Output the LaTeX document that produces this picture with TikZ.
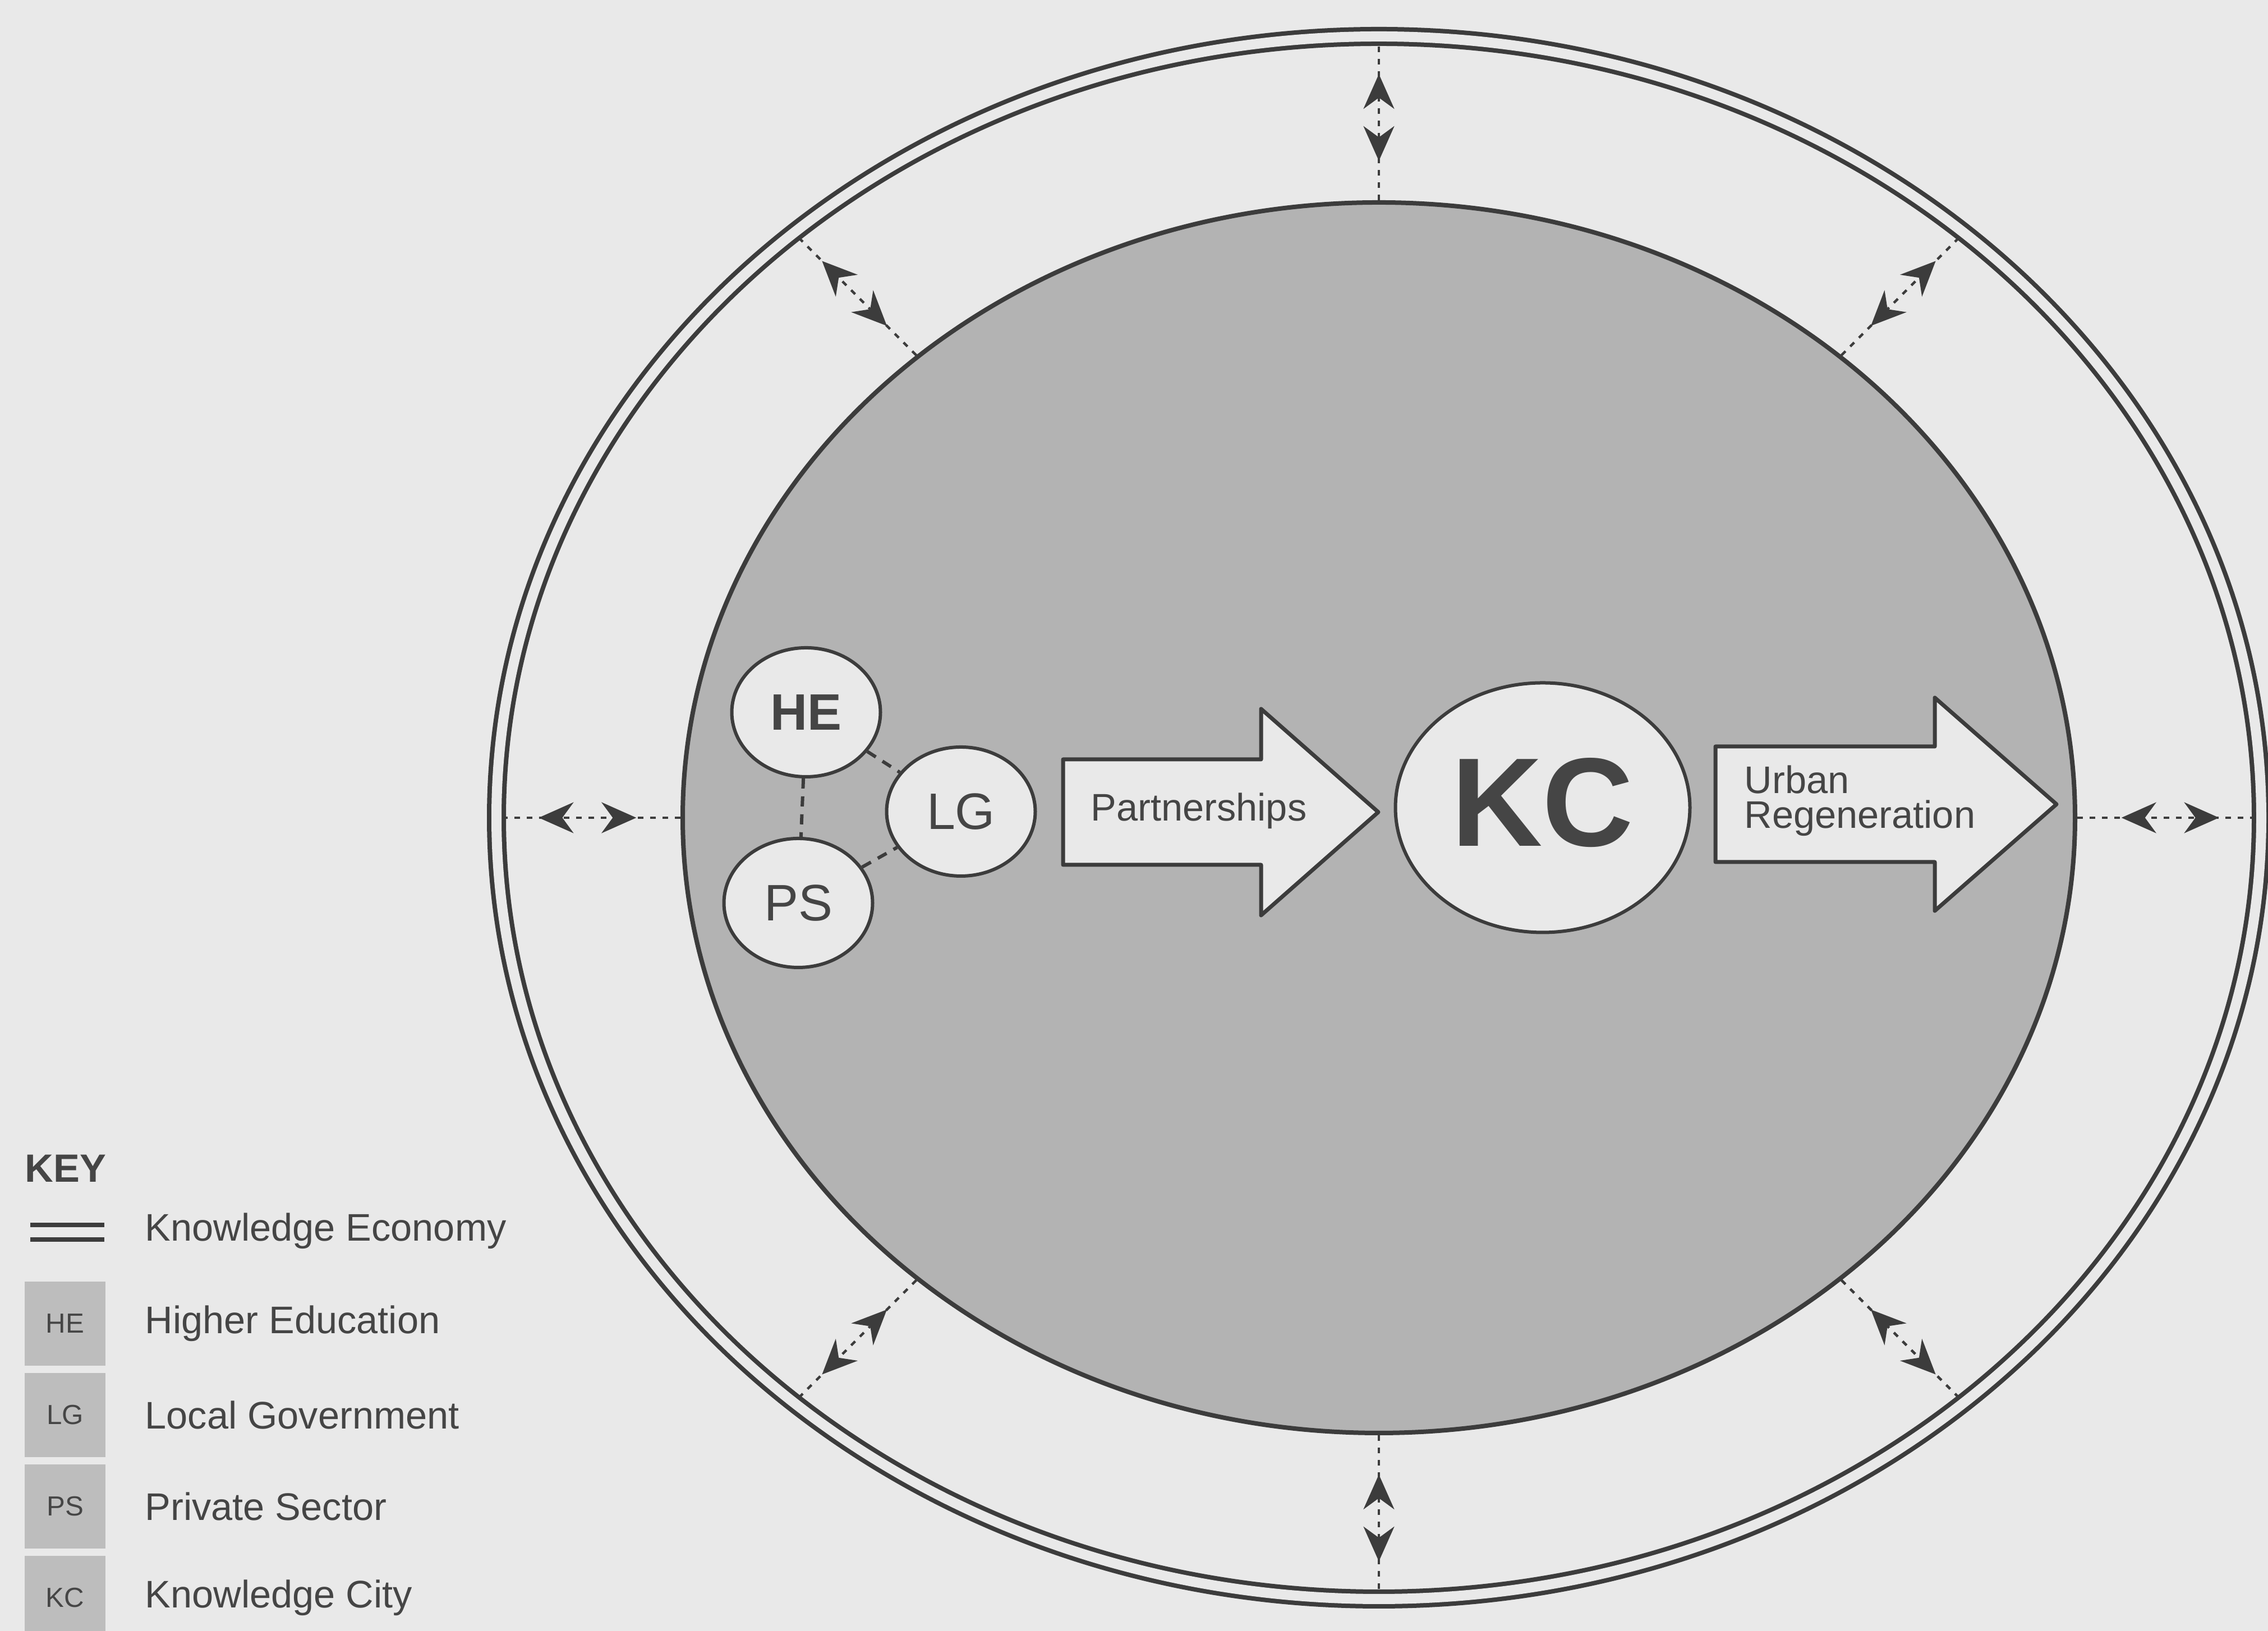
\documentclass[tikz,border=0pt]{standalone}
\usepackage{fontspec}
\setmainfont{Liberation Sans}
\usetikzlibrary{shapes.geometric, arrows.meta, positioning, decorations.markings}

\definecolor{paper}{HTML}{E9E9E9}
\definecolor{cityfill}{HTML}{B3B3B3}
\definecolor{keyfill}{HTML}{BDBDBD}
\definecolor{ink}{HTML}{3C3C3C}
\definecolor{inktext}{HTML}{454545}

\tikzstyle{ring} = [draw=ink, line width=0.08cm, double=paper, double distance=0.18cm]
\tikzstyle{city} = [ellipse, draw=ink, line width=0.08cm, fill=cityfill, minimum width=24.82cm, minimum height=21.94cm]
\tikzstyle{actor} = [ellipse, draw=ink, line width=0.06cm, fill=paper, minimum width=2.65cm, minimum height=2.30cm, inner sep=0pt, text=inktext, font=\fontsize{26pt}{30pt}\selectfont]
\tikzstyle{blockarrow} = [draw=ink, line width=0.07cm, fill=paper, line join=round]
\tikzstyle{arrowtext} = [inner sep=0pt, text=inktext, font=\fontsize{19.5pt}{17.5pt}\selectfont]
\tikzstyle{tie} = [draw=ink, line width=0.06cm, dash pattern=on 0.18cm off 0.14cm]
\tikzstyle{link} = [draw=ink, line width=0.045cm, dash pattern=on 0.10cm off 0.12cm, shorten >=0.12cm, postaction={decorate}, decoration={markings, mark=at position 0.24 with {\arrowreversed{Stealth[length=0.62cm, width=0.55cm, inset=0.2cm]}}, mark=at position 0.77 with {\arrow{Stealth[length=0.62cm, width=0.55cm, inset=0.2cm]}}}]
\tikzstyle{keybox} = [rectangle, fill=keyfill, minimum width=1.44cm, minimum height=1.50cm, inner sep=0pt, outer sep=0pt, text=inktext, font=\fontsize{14pt}{16pt}\selectfont]
\tikzstyle{keytext} = [inner sep=0pt, text=inktext, font=\fontsize{19.5pt}{22pt}\selectfont]

\begin{document}
\begin{tikzpicture}

	\useasboundingbox (0,0) rectangle (40.43,29.08);
	\clip (0,0) rectangle (40.43,29.08);
	\fill[paper] (0,0) rectangle (40.43,29.08);

	% knowledge economy and knowledge city
	\node (econ) [ellipse, ring, minimum width=31.46cm, minimum height=27.86cm, outer sep=0pt] at (24.58,14.50) {};
	\node (city) [city] at (24.58,14.50) {};

	\foreach \a in {0,45,...,315}
		\draw [link] (city.\a) -- (econ.\a);

	% partners
	\node (he) [actor, font=\fontsize{26pt}{30pt}\selectfont\bfseries] at (14.37,16.38) {HE};
	\node (lg) [actor] at (17.13,14.61) {LG};
	\node (ps) [actor] at (14.23,12.98) {PS};

	\draw [tie] (he) -- (ps);
	\draw [tie] (he) -- (lg);
	\draw [tie] (ps) -- (lg);

	% partnerships arrow
	\draw [blockarrow] (18.95,13.66) -- (18.95,15.54) -- (22.48,15.54) -- (22.48,16.44) -- (24.57,14.60) -- (22.48,12.76) -- (22.48,13.66) -- cycle;
	\node (part) [arrowtext] at (21.37,14.62) {Partnerships};

	\node (kc) [ellipse, draw=ink, line width=0.06cm, fill=paper, minimum width=5.25cm, minimum height=4.45cm, inner sep=0pt, text depth=0.2cm, text=inktext, font=\fontsize{64pt}{70pt}\selectfont\bfseries] at (27.50,14.68) {KC};

	% urban regeneration arrow
	\draw [blockarrow] (30.58,13.71) -- (30.58,15.77) -- (34.49,15.77) -- (34.49,16.64) -- (36.66,14.74) -- (34.49,12.84) -- (34.49,13.71) -- cycle;
	\node (urban) [arrowtext, anchor=west, align=left] at (31.09,14.80) {Urban\\Regeneration};

	% key
	\node (key) [keytext, anchor=west, font=\fontsize{20pt}{22pt}\selectfont\bfseries] at (0.44,8.25) {KEY};
	\coordinate (kea) at (0.54,7.11);
	\coordinate (keb) at (1.86,7.11);
	\draw [ring] (kea) -- (keb);
	\node (tke) [keytext, anchor=west] at (2.58,7.13) {Knowledge Economy};

	\node (khe) [keybox] at (1.16,5.48) {HE};
	\node (klg) [keybox, below=0.13cm of khe] {LG};
	\node (kps) [keybox, below=0.13cm of klg] {PS};
	\node (kkc) [keybox, below=0.13cm of kps] {KC};

	\node (the) [keytext, right=0.70cm of khe] {Higher Education};
	\node (tlg) [keytext, right=0.70cm of klg] {Local Government};
	\node (tps) [keytext, right=0.70cm of kps] {Private Sector};
	\node (tkc) [keytext, right=0.70cm of kkc] {Knowledge City};

\end{tikzpicture}
\end{document}
